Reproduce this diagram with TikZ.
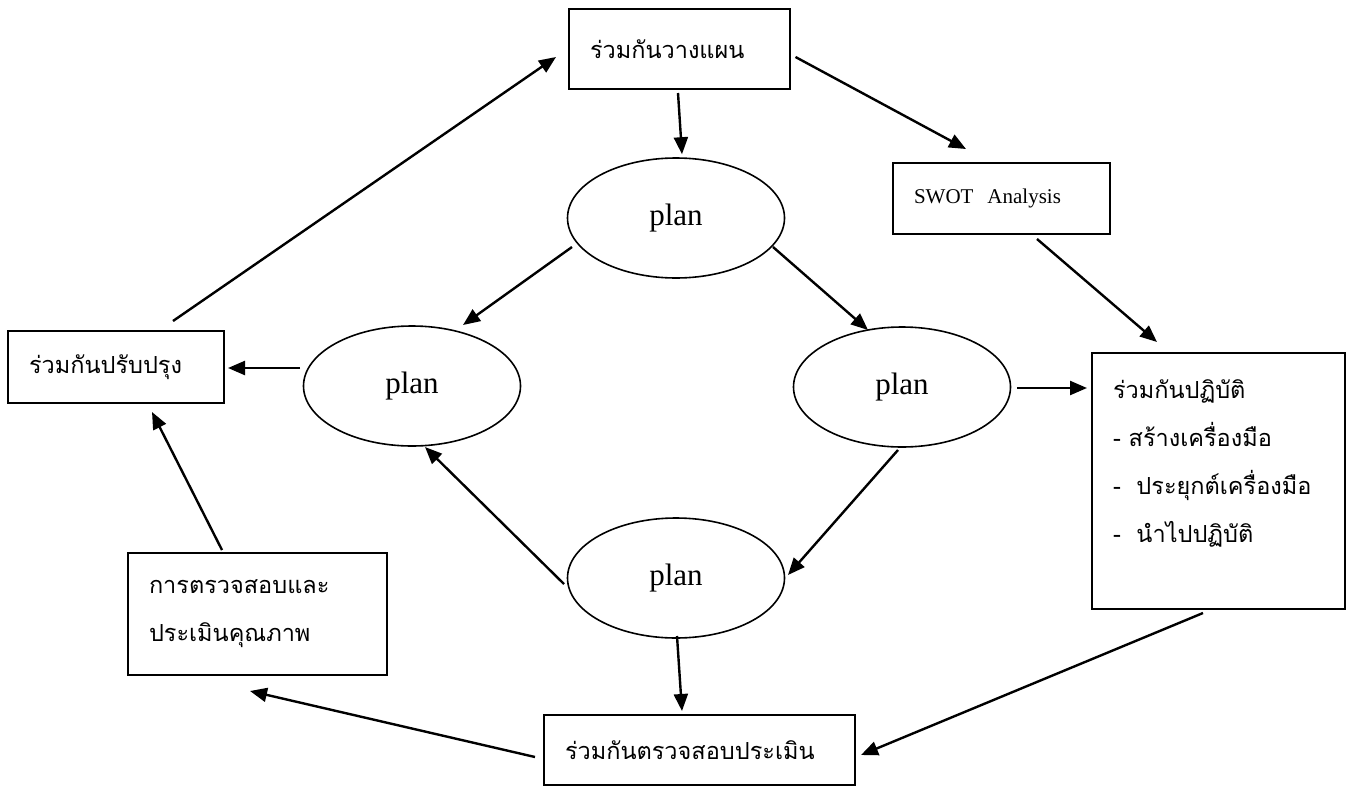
\documentclass[tikz,border=0pt]{standalone}
\usepackage{fontspec}
\setmainfont{Liberation Serif}
\newfontfamily\thaifont[Script=Thai]{Loma}
\usetikzlibrary{shapes.geometric,arrows.meta,calc}

\begin{document}
\begin{tikzpicture}[x=1pt,y=-1pt,
		box/.style={draw, line width=2pt, inner xsep=21pt, inner ysep=0pt, align=left,
			font=\thaifont\fontsize{23.5}{48}\selectfont},
		plan/.style={draw, ellipse, line width=1.6pt, minimum width=217pt, minimum height=120pt,
			font=\fontsize{31}{36}\selectfont},
		arr/.style={line width=2.4pt, -{Triangle[length=17pt,width=14pt]}}]
	\useasboundingbox (0,0) rectangle (1346,787);
	% boxes
	\node[box, text width=179pt, minimum height=80pt] (topbox) at (679.5,49) {ร่วมกันวางแผน};
	\node[box, text width=175pt, minimum height=71pt, font=\fontsize{21}{24}\selectfont] (swot) at (1001.5,198.5) {SWOT\ \ Analysis};
	\node[box, text width=174pt, minimum height=72pt] (leftbox) at (116,367) {ร่วมกันปรับปรุง};
	\node[box, text width=211pt, minimum height=256pt] (rightbox) at (1218.5,481)
		{ร่วมกันปฏิบัติ\\-~สร้างเครื่องมือ\\-~~ประยุกต์เครื่องมือ\\-~~นำไปปฏิบัติ\rule[-40pt]{0pt}{40pt}};
	\node[box, text width=217pt, minimum height=122pt] (blbox) at (257.5,614) {การตรวจสอบและ\\ประเมินคุณภาพ};
	\node[box, text width=269pt, minimum height=70pt] (botbox) at (699.5,750) {ร่วมกันตรวจสอบประเมิน};
	% the four plan ellipses
	\node[plan] (ptop) at (676,218) {plan};
	\node[plan] (pleft) at (412,386) {plan};
	\node[plan] (pright) at (902,387) {plan};
	\node[plan] (pbot) at (676,578) {plan};
	% arrows
	\draw[arr] ([shift={(-1.5,3)}]topbox.south) -- ([shift={(6,-3)}]ptop.north);
	\draw[arr] ([shift={(4.5,8)}]topbox.east) -- ([shift={(-35.5,-13)}]swot.north);
	\draw[arr] ([shift={(-104,29)}]ptop.center) -- ([shift={(51,-61)}]pleft.center);
	\draw[arr] ([shift={(97,29)}]ptop.center) -- ([shift={(-34,-57)}]pright.center);
	\draw[arr] ([shift={(35.5,4)}]swot.south) -- ([shift={(-61.5,-10)}]rightbox.north);
	\draw[arr] ([shift={(115,1)}]pright.center) -- ([shift={(-4,-93)}]rightbox.west);
	\draw[arr] ([shift={(-4,63)}]pright.center) -- ([shift={(112,-3)}]pbot.center);
	\draw[arr] ([shift={(-112,6)}]pbot.center) -- ([shift={(13,61)}]pleft.center);
	\draw[arr] ([shift={(-112,-18)}]pleft.center) -- ([shift={(3,1)}]leftbox.east);
	\draw[arr] ([shift={(57,-9)}]leftbox.north) -- ([shift={(-12,8)}]topbox.west);
	\draw[arr] ([shift={(-35.5,-2)}]blbox.north) -- ([shift={(36,8)}]leftbox.south);
	\draw[arr] ([shift={(-8,7)}]botbox.west) -- ([shift={(-7.5,15)}]blbox.south);
	\draw[arr] ([shift={(1,58)}]pbot.center) -- ([shift={(-17.5,-3)}]botbox.north);
	\draw[arr] ([shift={(-15.5,3)}]rightbox.south) -- ([shift={(5,5)}]botbox.east);
\end{tikzpicture}
\end{document}
